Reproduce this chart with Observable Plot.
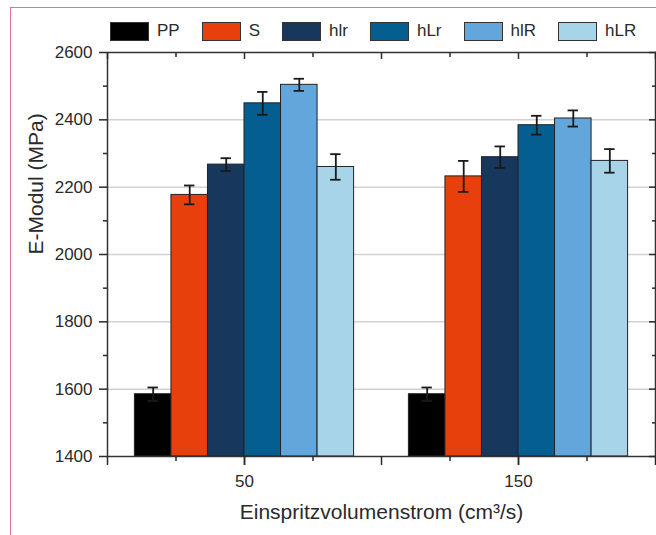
<!DOCTYPE html>
<html>
<head>
<meta charset="utf-8">
<script src="https://cdn.jsdelivr.net/npm/d3@7"></script>
<script src="https://cdn.jsdelivr.net/npm/@observablehq/plot@0.6"></script>
<style>
  html, body { margin: 0; padding: 0; background: #fff; }
  #page { position: relative; width: 656px; height: 535px; overflow: hidden; font-family: "Liberation Sans", Arial, sans-serif; }
  #border { position: absolute; left: 10px; top: 7px; right: -5px; bottom: -5px; border-left: 1.5px solid #e46fa0; border-top: 1.5px solid #e46fa0; }
  #chart { position: absolute; left: 0; top: 0; }
  #legend { position: absolute; left: 110px; top: 21px; display: flex; gap: 22px; align-items: center; }
  .item { display: flex; align-items: center; gap: 8px; font-size: 17px; color: #2a2a2a; }
  .sw { width: 39px; height: 19px; border: 1px solid #333; box-sizing: border-box; }
</style>
</head>
<body>
<div id="page">
  <div id="border"></div>
  <div id="chart"></div>
  <div id="legend"></div>
</div>
<script>
// ---- data ----
const flows = [50, 150];
const series = ["PP", "S", "hlr", "hLr", "hlR", "hLR"];
const colors = ["#000000", "#e8400c", "#17375d", "#045e8f", "#63a6dc", "#a7d4e8"];
const modulus50 = [1585, 2177, 2267, 2449, 2504, 2260];
const error50 = [20, 28, 19, 34, 18, 38];
const modulus150 = [1585, 2232, 2289, 2384, 2404, 2278];
const error150 = [20, 46, 32, 28, 24, 35];
const yMajorTicks = [1400, 1600, 1800, 2000, 2200, 2400, 2600];
const yMinorTicks = [1500, 1700, 1900, 2100, 2300, 2500];
const yGridTicks = [1600, 1800, 2000, 2200, 2400];
const xMajorTicks = [0, 50, 100, 150, 200];
const xMinorTicks = [25, 75, 125, 175];
const xTickLabels = [50, 150];
const xTitle = "Einspritzvolumenstrom (cm³/s)";
const yTitle = "E-Modul (MPa)";

// ---- build table ----
const groupWidth = 80;
const bw = groupWidth / series.length;
const values = [modulus50, modulus150];
const errors = [error50, error150];
const rows = flows.flatMap((f, g) => series.map((s, i) => ({
  flow: f, series: s, value: values[g][i], err: errors[g][i],
  x1: f - groupWidth / 2 + i * bw,
  x2: f - groupWidth / 2 + (i + 1) * bw,
  xc: f - groupWidth / 2 + (i + 0.5) * bw
})));
const capHalf = 1.9;

const plot = Plot.plot({
  width: 656,
  height: 535,
  marginLeft: 107,
  marginRight: 1,
  marginTop: 52,
  marginBottom: 79,
  style: { fontFamily: "Liberation Sans, Arial, sans-serif", fontSize: "17px", color: "#2a2a2a", background: "transparent" },
  x: { domain: [0, 200], axis: null },
  y: { domain: [1400, 2600], axis: null },
  color: { domain: series, range: colors },
  marks: [
    Plot.gridY(yGridTicks, { stroke: "#d2d2d2", strokeOpacity: 1, strokeWidth: 1.5 }),
    Plot.rectY(rows, { x1: "x1", x2: "x2", y1: 1400, y2: "value", fill: "series", stroke: "#222", strokeWidth: 1 }),
    Plot.ruleX(rows, { x: "xc", y1: d => d.value - d.err, y2: d => d.value + d.err, stroke: "#1a1a1a", strokeWidth: 1.8 }),
    Plot.ruleY(rows, { y: d => d.value + d.err, x1: d => d.xc - capHalf, x2: d => d.xc + capHalf, stroke: "#1a1a1a", strokeWidth: 1.8 }),
    Plot.ruleY(rows, { y: d => d.value - d.err, x1: d => d.xc - capHalf, x2: d => d.xc + capHalf, stroke: "#1a1a1a", strokeWidth: 1.8 }),
    Plot.frame({ stroke: "#333", strokeWidth: 1.5 }),
    // left axis
    Plot.axisY(yMajorTicks, { anchor: "left", label: null, tickSize: 8, tickPadding: 7, tickFormat: d => String(d), strokeWidth: 1.5 }),
    Plot.axisY(yMinorTicks, { anchor: "left", label: null, tickSize: 4, text: null, strokeWidth: 1.5 }),
    // right axis (inward)
    Plot.axisY(yMajorTicks, { anchor: "right", label: null, tickSize: -7, text: null, strokeWidth: 1.5 }),
    Plot.axisY(yMinorTicks, { anchor: "right", label: null, tickSize: -4, text: null, strokeWidth: 1.5 }),
    // bottom axis
    Plot.axisX(xTickLabels, { anchor: "bottom", label: null, tickSize: 9, tickPadding: 9, tickFormat: d => String(d), strokeWidth: 1.5 }),
    Plot.axisX(xMajorTicks, { anchor: "bottom", label: null, tickSize: 9, text: null, strokeWidth: 1.5 }),
    Plot.axisX(xMinorTicks, { anchor: "bottom", label: null, tickSize: 5, text: null, strokeWidth: 1.5 }),
    // top axis (inward)
    Plot.axisX(xMajorTicks, { anchor: "top", label: null, tickSize: -6, text: null, strokeWidth: 1.5 }),
    Plot.axisX(xMinorTicks, { anchor: "top", label: null, tickSize: -4, text: null, strokeWidth: 1.5 }),
    // titles
    Plot.text([xTitle], { text: d => d, frameAnchor: "bottom", dy: 62, fontSize: 21, fill: "#2a2a2a" }),
    Plot.text([yTitle], { text: d => d, frameAnchor: "left", dx: -71, rotate: -90, fontSize: 21, fill: "#2a2a2a" })
  ]
});
document.getElementById("chart").appendChild(plot);

const legend = document.getElementById("legend");
series.forEach((s, i) => {
  const item = document.createElement("div");
  item.className = "item";
  const sw = document.createElement("div");
  sw.className = "sw";
  sw.style.background = colors[i];
  const lab = document.createElement("span");
  lab.textContent = s;
  item.appendChild(sw);
  item.appendChild(lab);
  legend.appendChild(item);
});
</script>
</body>
</html>
